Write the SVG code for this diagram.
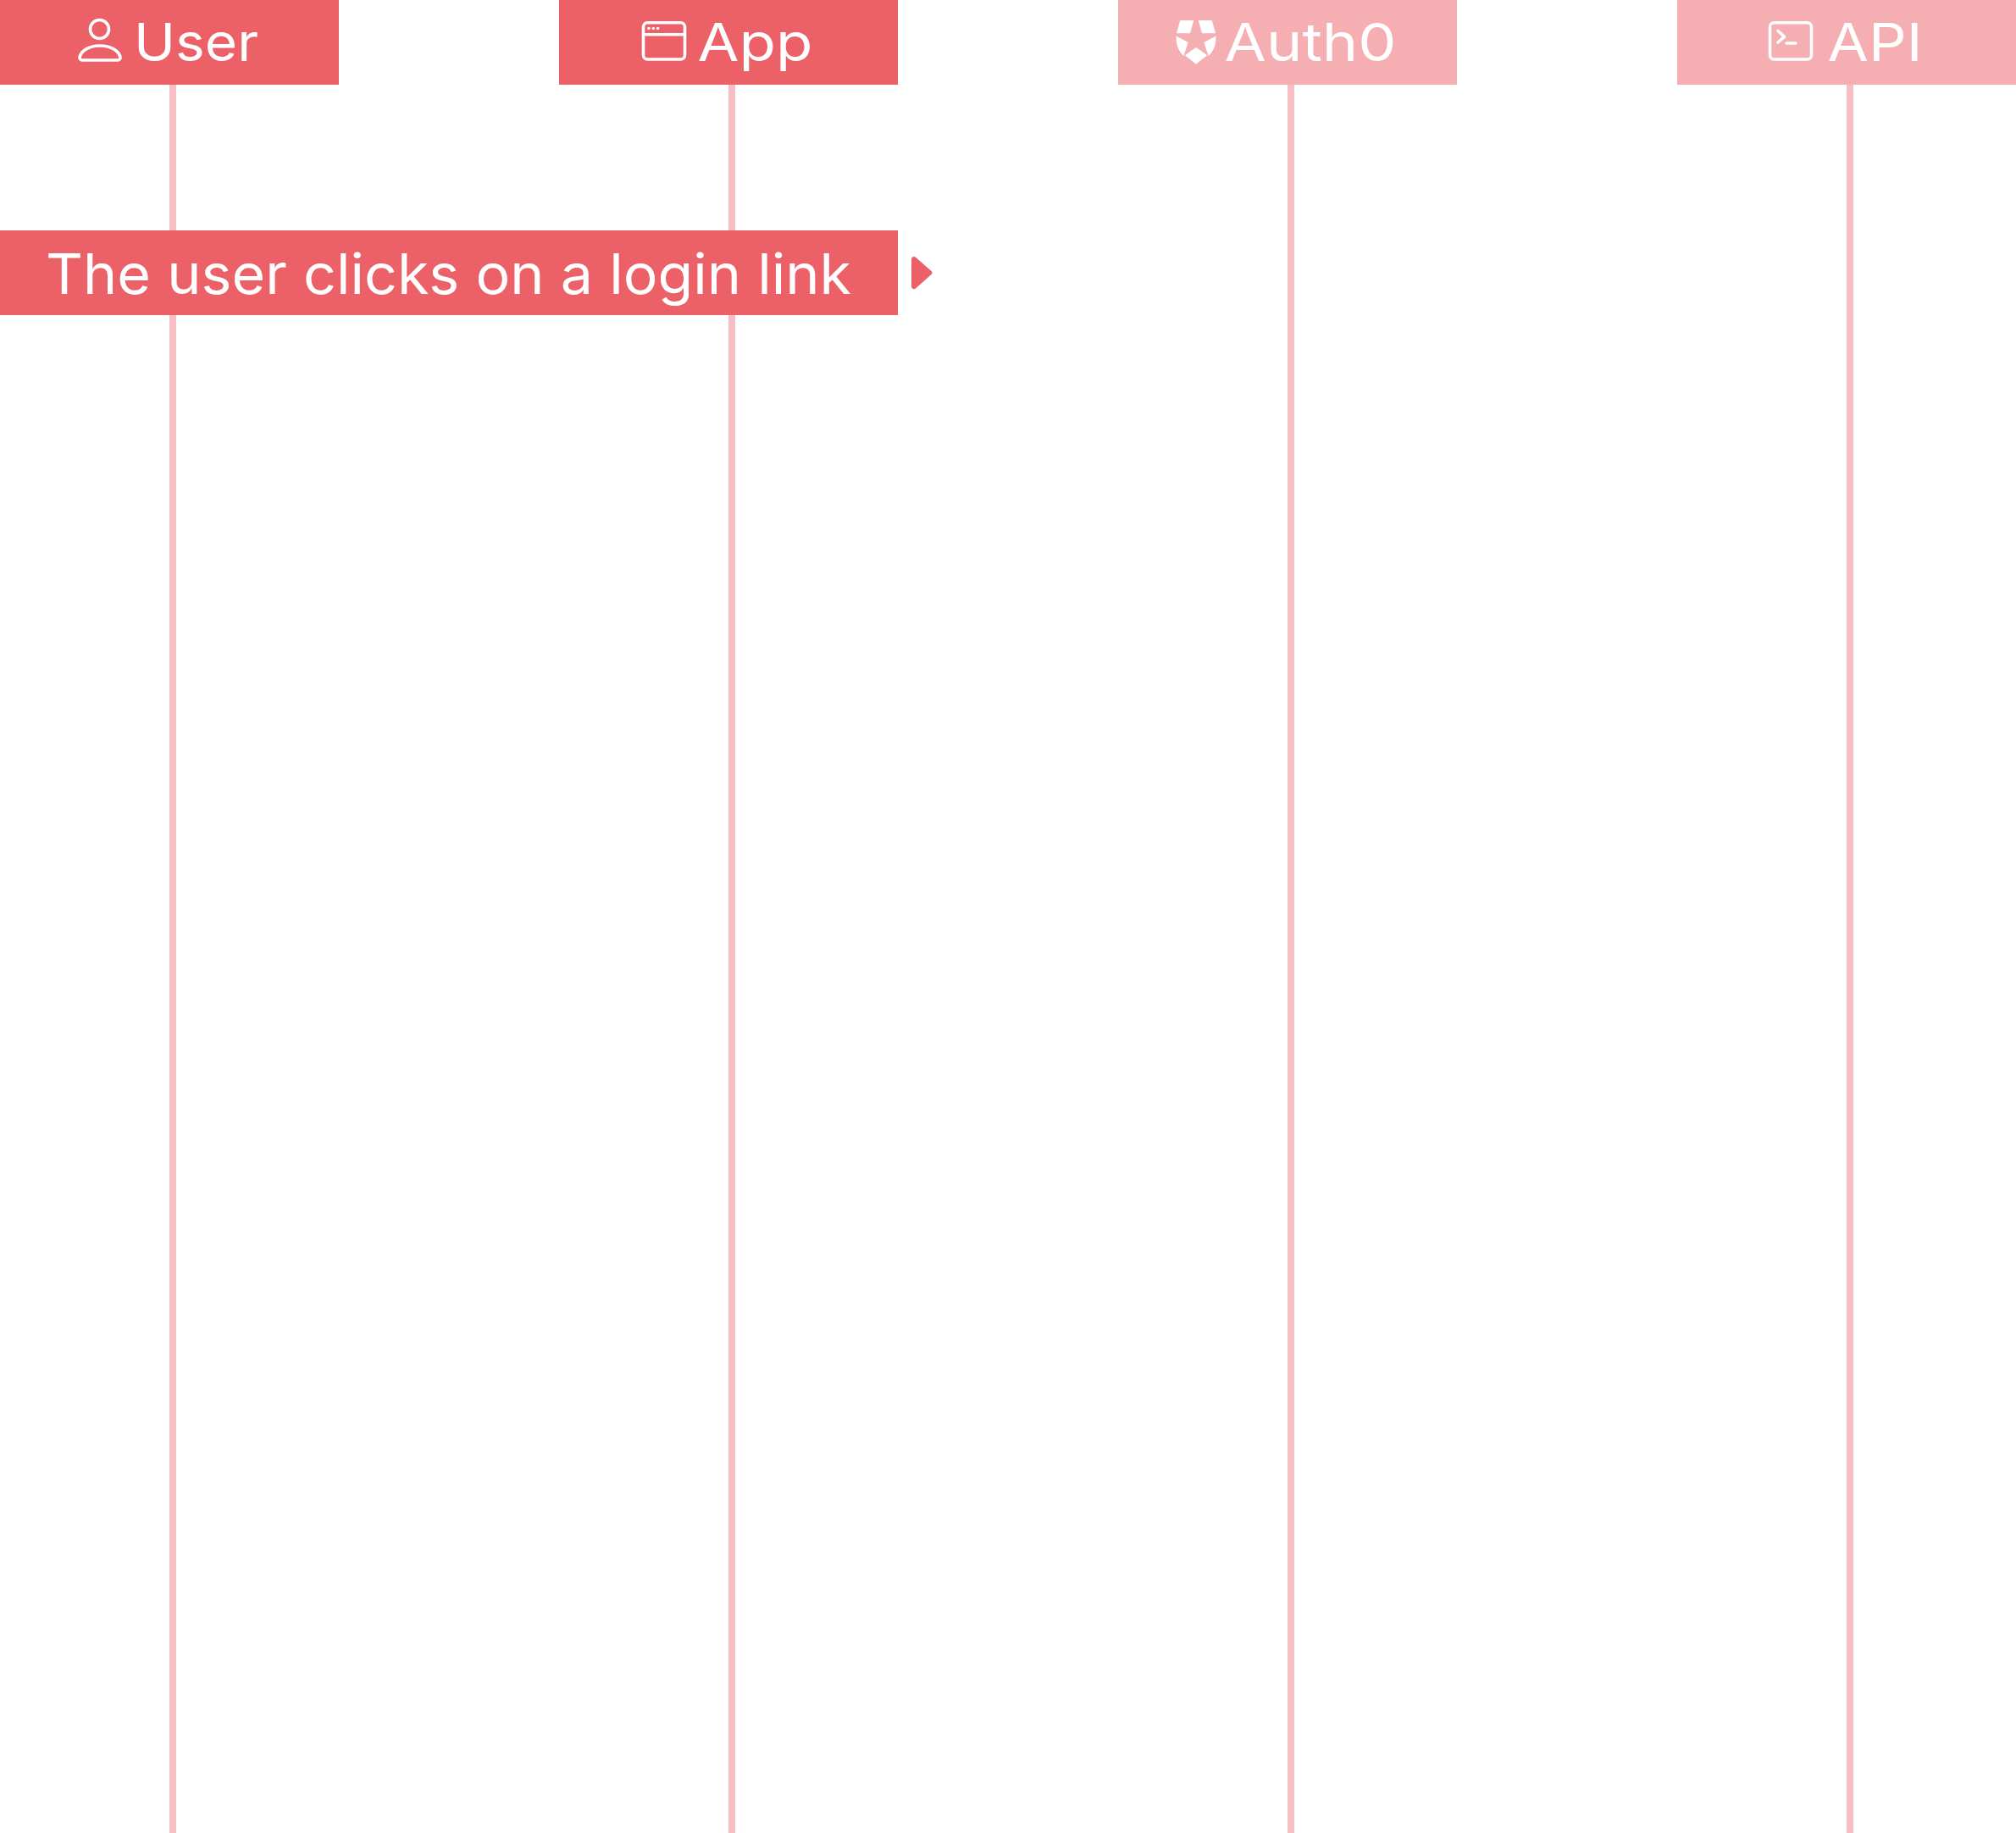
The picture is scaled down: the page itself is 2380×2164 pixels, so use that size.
<svg xmlns="http://www.w3.org/2000/svg" width="2380" height="2164" viewBox="0 0 2380 2164">
  <style>
    .dark { fill: #ec6068; }
    .light { fill: #f5aeb2; }
    .life { fill: #f7bfc3; }
    .label { fill: #ffffff; font-family: "Inter", "Noto Sans", "Liberation Sans", sans-serif; font-weight: 400; }
    .head { font-size: 62px; }
    .msg { font-size: 66px; }
    .ico { fill: none; stroke: #ffffff; stroke-width: 3.6; stroke-linecap: round; stroke-linejoin: round; }
    .dot { fill: #ffffff; }
  </style>
  <rect width="2380" height="2164" fill="#ffffff"/>
  <g id="connectors">
    <rect class="life" x="200" y="100" width="8" height="2064"/>
    <rect class="life" x="860" y="100" width="8" height="2064"/>
    <rect class="life" x="1520" y="100" width="8" height="2064"/>
    <rect class="life" x="2180" y="100" width="8" height="2064"/>
  </g>
  <g id="node-user">
    <rect class="dark" x="0" y="0" width="400" height="100"/>
    <circle class="ico" cx="117.5" cy="34.5" r="11"/>
    <path class="ico" d="M96.5 71 H139.5 A3 3 0 0 0 142 67.500 C140 59 130 54 118 54 S96 59 94 67.500 A3 3 0 0 0 96.500 71 Z"/>
    <text class="label head" x="158" y="72" textLength="147" lengthAdjust="spacingAndGlyphs">User</text>
  </g>
  <g id="node-app">
    <rect class="dark" x="660" y="0" width="400" height="100"/>
    <rect class="ico" x="759.500" y="26.800" width="49" height="43.200" rx="5"/>
    <path class="ico" d="M759.500 40.700 H808.500"/>
    <circle class="dot" cx="766" cy="33.500" r="1.800"/>
    <circle class="dot" cx="771.300" cy="33.500" r="1.800"/>
    <circle class="dot" cx="776.600" cy="33.500" r="1.800"/>
    <text class="label head" x="823.500" y="72" textLength="136" lengthAdjust="spacingAndGlyphs">App</text>
  </g>
  <g id="node-auth0">
    <rect class="light" x="1320" y="0" width="400" height="100"/>
    <g fill="#ffffff">
      <path d="M1393.300 24 H1409.300 L1405 39.300 H1389 Z"/>
      <path d="M1414.700 24 H1430.700 L1435 39.300 H1419 Z"/>
      <path d="M1388.600 42.500 L1402.700 50 L1397.300 66 C1391 60 1388 52 1388.600 42.500 Z"/>
      <path d="M1435.400 42.500 L1421.300 50 L1426.700 66 C1433 60 1436 52 1435.400 42.500 Z"/>
      <path d="M1412 56 L1425.300 65.300 L1412 75.800 L1398.700 65.300 Z"/>
    </g>
    <text class="label head" x="1445.500" y="72" textLength="203" lengthAdjust="spacingAndGlyphs">Auth0</text>
  </g>
  <g id="node-api">
    <rect class="light" x="1980" y="0" width="400" height="100"/>
    <rect class="ico" x="2089.500" y="26.800" width="49" height="43.200" rx="5"/>
    <path class="ico" d="M2099 36.500 L2106.500 43.300 L2099 50 M2109 51 H2120"/>
    <text class="label head" x="2157.500" y="72" textLength="112" lengthAdjust="spacingAndGlyphs">API</text>
  </g>
  <g id="node-message">
    <rect class="dark" x="0" y="272" width="1060" height="100"/>
    <text class="label msg" x="54" y="347" textLength="951" lengthAdjust="spacingAndGlyphs">The user clicks on a login link</text>
  </g>
  <g id="arrowhead">
    <path class="dark" d="M1076 306.500 Q1076 302.500 1079.500 303 Q1080.500 303.300 1081.500 304.200 L1099.500 320 Q1101.500 322 1099.500 324 L1081.500 340 Q1080.500 341 1079.500 341.300 Q1076 341.500 1076 337.500 Z"/>
  </g>
</svg>
